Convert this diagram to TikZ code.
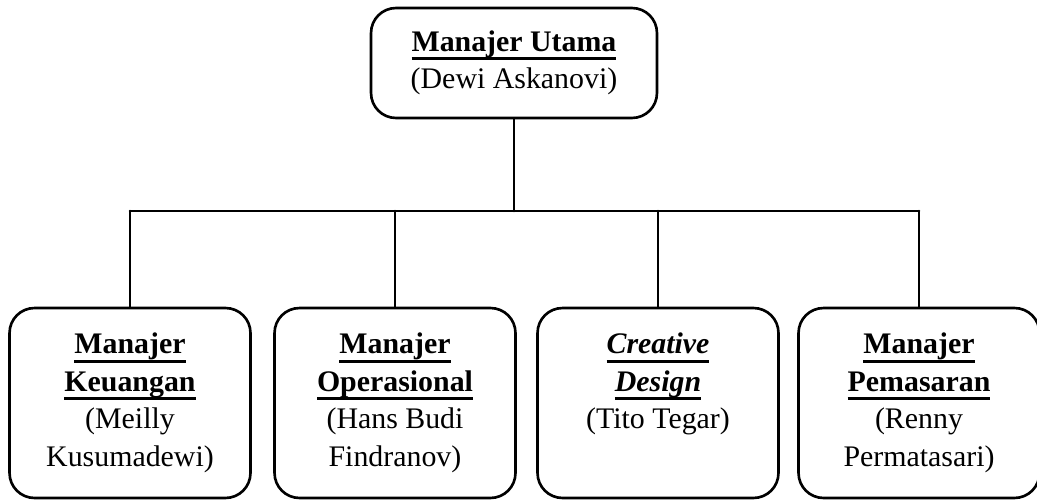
\documentclass[tikz,border=0pt]{standalone}
\usepackage{fontspec}
\setmainfont{Liberation Serif}
% garis bawah tebal untuk judul jabatan
\newcommand\garis[1]{\leavevmode\setbox0\hbox{#1}\rlap{\rule[-5pt]{\wd0}{1.7pt}}\box0}
\newcommand\isi[1]{\parbox[c][2.8cm][t]{4.7cm}{\centering #1}}

\begin{document}
\begin{tikzpicture}[x=0.02cm, y=-0.02cm, line width=1.5pt, line join=round, line cap=round,
	kotak/.style={draw, rounded corners=0.5cm, inner sep=0pt, align=center,
		font=\fontsize{17}{21.3}\selectfont},
	kotakbawah/.style={kotak, minimum width=4.82cm, minimum height=3.8cm}]
	\useasboundingbox (0,0) rectangle (1037,500);
	
	% Kotak pimpinan
	\node[kotak, minimum width=5.72cm, minimum height=2.2cm] (utama) at (514,63)
		{\textbf{\garis{Manajer Utama}}\\(Dewi Askanovi)};
	
	% Kotak bawahan
	\node[kotakbawah] (keuangan) at (130,403)
		{\isi{\textbf{\garis{Manajer}}\\\textbf{\garis{Keuangan}}\\(Meilly\\Kusumadewi)}};
	\node[kotakbawah] (operasional) at (395,403)
		{\isi{\textbf{\garis{Manajer}}\\\textbf{\garis{Operasional}}\\(Hans Budi\\Findranov)}};
	\node[kotakbawah] (desain) at (658,403)
		{\isi{\textbf{\textit{\garis{Creative}}}\\\textbf{\textit{\garis{Design}}}\\(Tito Tegar)}};
	\node[kotakbawah] (pemasaran) at (919,403)
		{\isi{\textbf{\garis{Manajer}}\\\textbf{\garis{Pemasaran}}\\(Renny\\Permatasari)}};
	
	% Garis penghubung
	\coordinate (cabang) at (514,211);
	\draw (utama.south) -- (cabang);
	\draw (keuangan.north |- cabang) -- (pemasaran.north |- cabang);
	\foreach \x in {keuangan, operasional, desain, pemasaran}
	\draw (\x.north |- cabang) -- (\x.north);
\end{tikzpicture}
\end{document}
